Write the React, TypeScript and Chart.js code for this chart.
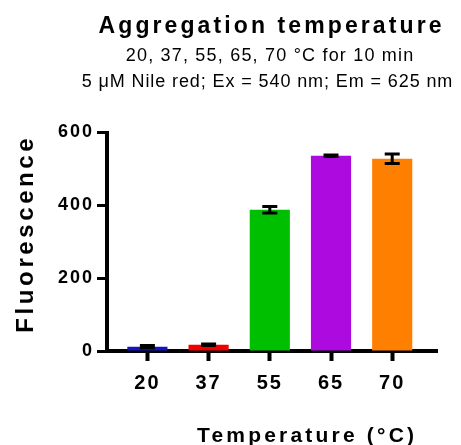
import { useEffect, useRef } from 'react';
import { Chart, registerables } from 'chart.js';

Chart.register(...registerables);

// Data
const temperatures = ['20', '37', '55', '65', '70'];
const fluorescence = [12, 17, 388, 536, 528];
const sem = [3, 2, 9, 2, 13];
const barColors = ['#1414C0', '#F00000', '#00BF00', '#AD0ADF', '#FF8000'];
const yTicks = [0, 200, 400, 600];

const chartTitle = 'Aggregation temperature';
const subtitleLines = ['20, 37, 55, 65, 70 °C for 10 min', '5 μM Nile red; Ex = 540 nm; Em = 625 nm'];
const xTitle = 'Temperature (°C)';
const yTitle = 'Fluorescence';

const FAMILY = "'Liberation Sans', Arial, Helvetica, sans-serif";

function spacedText(
  ctx: CanvasRenderingContext2D,
  text: string,
  x: number,
  y: number,
  font: string,
  spacing: number,
  rotate = 0
) {
  ctx.save();
  ctx.font = font;
  (ctx as any).letterSpacing = spacing + 'px';
  ctx.fillStyle = '#000';
  ctx.textAlign = 'center';
  ctx.textBaseline = 'alphabetic';
  ctx.translate(x, y);
  if (rotate) ctx.rotate(rotate);
  ctx.fillText(text, spacing / 2, 0);
  ctx.restore();
}

// Mean ± SEM whiskers on each bar
const errorBars = {
  id: 'errorBars',
  afterDatasetsDraw(chart: any) {
    const ctx: CanvasRenderingContext2D = chart.ctx;
    const yScale = chart.scales.y;
    const meta = chart.getDatasetMeta(0);
    ctx.save();
    ctx.strokeStyle = '#000';
    ctx.lineWidth = 3;
    ctx.lineCap = 'butt';
    meta.data.forEach((bar: any, i: number) => {
      const x = bar.x;
      const top = yScale.getPixelForValue(fluorescence[i] + sem[i]);
      const bottom = yScale.getPixelForValue(fluorescence[i] - sem[i]);
      const half = 7.5;
      ctx.beginPath();
      ctx.moveTo(x, top);
      ctx.lineTo(x, bottom);
      ctx.moveTo(x - half, top);
      ctx.lineTo(x + half, top);
      ctx.moveTo(x - half, bottom);
      ctx.lineTo(x + half, bottom);
      ctx.stroke();
    });
    ctx.restore();
  },
};

// Tick labels get a little tracking; titles are drawn with their own spacing
const textDecor = {
  id: 'textDecor',
  beforeDraw(chart: any) {
    (chart.ctx as any).letterSpacing = '2px';
  },
  afterDraw(chart: any) {
    const ctx: CanvasRenderingContext2D = chart.ctx;
    (ctx as any).letterSpacing = '0px';
    spacedText(ctx, chartTitle, 270, 32.5, `bold 23px ${FAMILY}`, 3.1);
    spacedText(ctx, subtitleLines[0], 269.5, 61, `18px ${FAMILY}`, 1.2);
    spacedText(ctx, subtitleLines[1], 267, 87, `18px ${FAMILY}`, 0.9);
    spacedText(ctx, xTitle, 305.5, 441.5, `bold 21px ${FAMILY}`, 3.2);
    spacedText(ctx, yTitle, 33, 235.5, `bold 24px ${FAMILY}`, 3.6, -Math.PI / 2);
  },
};

export default function App() {
  const canvasRef = useRef<HTMLCanvasElement | null>(null);

  useEffect(() => {
    const canvas = canvasRef.current;
    if (!canvas) return;
    const chart = new Chart(canvas, {
      type: 'bar',
      data: {
        datasets: [
          {
            data: fluorescence.map((v, i) => ({ x: i, y: v })),
            backgroundColor: barColors,
            borderWidth: 0,
            barPercentage: 0.82,
            categoryPercentage: 0.8,
          },
        ],
      },
      options: {
        responsive: false,
        animation: false,
        events: [],
        layout: { padding: { top: 132.5, right: 23.5, bottom: 34, left: 0 } },
        plugins: {
          legend: { display: false },
          tooltip: { enabled: false },
          title: { display: false },
        },
        scales: {
          x: {
            type: 'linear',
            offset: false,
            min: -0.66,
            max: 4.74,
            afterBuildTicks: (scale: any) => {
              scale.ticks = temperatures.map((_, i) => ({ value: i }));
            },
            afterFit: (scale: any) => {
              scale.height = 60;
            },
            ticks: {
              autoSkip: false,
              maxRotation: 0,
              padding: 10,
              color: '#000',
              font: { family: FAMILY, size: 20, weight: 'bold' },
              callback: (v: any) => temperatures[v] ?? '',
            },
            grid: {
              offset: false,
              drawOnChartArea: false,
              drawTicks: true,
              tickLength: 10,
              tickWidth: 4,
              tickColor: '#000',
              lineWidth: 1,
            },
            border: { display: true, width: 4, color: '#000' },
          },
          y: {
            type: 'linear',
            min: 0,
            max: 600,
            afterBuildTicks: (scale: any) => {
              scale.ticks = yTicks.map((v) => ({ value: v }));
            },
            afterFit: (scale: any) => {
              scale.width = 107;
            },
            ticks: {
              padding: 3,
              color: '#000',
              font: { family: FAMILY, size: 18, weight: 'bold' },
            },
            grid: {
              drawOnChartArea: false,
              drawTicks: true,
              tickLength: 10,
              tickWidth: 3,
              tickColor: '#000',
              lineWidth: 1,
            },
            border: { display: true, width: 4, color: '#000' },
          },
        },
      } as any,
      plugins: [errorBars, textDecor],
    });
    return () => chart.destroy();
  }, []);

  return (
    <div style={{ position: 'fixed', left: 0, top: 0, width: 461, height: 445, background: '#fff' }}>
      <canvas ref={canvasRef} width={461} height={445} style={{ display: 'block' }} />
    </div>
  );
}
